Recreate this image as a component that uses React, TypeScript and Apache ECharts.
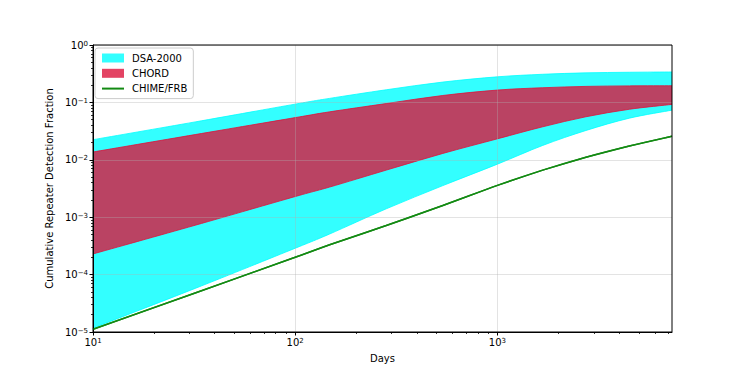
import React, { useEffect, useRef } from "react";
import * as echarts from "echarts";

// Days (x) at which values were read
const DAYS = [10, 32, 100, 148, 282, 537, 1000, 1675, 2740, 4490, 7300];
// DSA-2000 band
const DSA_UPPER = [0.0224, 0.0457, 0.0933, 0.1175, 0.166, 0.226, 0.279, 0.309, 0.327, 0.335, 0.339];
const DSA_LOWER = [1.17e-5, 5.75e-5, 2.88e-4, 5.1e-4, 1.4e-3, 3.55e-3, 8.4e-3, 0.0178, 0.0324, 0.0531, 0.0733];
// CHORD band
const CHORD_UPPER = [0.01368, 0.0275, 0.0543, 0.0685, 0.0955, 0.132, 0.164, 0.18, 0.19, 0.194, 0.195];
const CHORD_LOWER = [2.29e-4, 7.24e-4, 2.29e-3, 3.35e-3, 6.61e-3, 0.0129, 0.0232, 0.0376, 0.0562, 0.0759, 0.0923];
// CHIME/FRB line
const CHIME = [1.12e-5, 4.79e-5, 2.0e-4, 3.31e-4, 7.16e-4, 1.6e-3, 3.59e-3, 6.61e-3, 0.01109, 0.01738, 0.0257];

const X_MAJOR = [10, 100, 1000];
const X_MINOR = [20, 30, 40, 50, 60, 70, 80, 90, 200, 300, 400, 500, 600, 700, 800, 900, 2000, 3000, 4000, 5000, 6000, 7000];
const Y_MAJOR = [1e-5, 1e-4, 1e-3, 1e-2, 1e-1, 1];
const Y_MINOR_MULT = [2, 3, 4, 5, 6, 7, 8, 9];
const Y_MINOR_EXP = [-5, -4, -3, -2, -1];

const FONT = "DejaVu Sans";

function expLabel(v: number) {
  const e = Math.round(Math.log10(v));
  const s = e < 0 ? "\u2212" + Math.abs(e) : String(e);
  return "10{sup|" + s + "}";
}

// Catmull-Rom through pixel points -> cubic bezier path commands
function smoothSegs(p: number[][], start: boolean) {
  let d = start ? `M${p[0][0]},${p[0][1]}` : `L${p[0][0]},${p[0][1]}`;
  for (let i = 0; i < p.length - 1; i++) {
    const p0 = p[Math.max(0, i - 1)];
    const p1 = p[i];
    const p2 = p[i + 1];
    const p3 = p[Math.min(p.length - 1, i + 2)];
    const c1x = p1[0] + (p2[0] - p0[0]) / 6;
    const c1y = p1[1] + (p2[1] - p0[1]) / 6;
    const c2x = p2[0] - (p3[0] - p1[0]) / 6;
    const c2y = p2[1] - (p3[1] - p1[1]) / 6;
    d += ` C${c1x},${c1y} ${c2x},${c2y} ${p2[0]},${p2[1]}`;
  }
  return d;
}

function band(upper: number[], lower: number[], fill: string) {
  return (params: any, api: any) => {
    if (params.dataIndex !== 0) return null;
    const up: number[][] = DAYS.map((d, i) => api.coord([d, upper[i]]));
    const lo: number[][] = DAYS.map((d, i) => api.coord([d, lower[i]])).reverse();
    const pathData = smoothSegs(up, true) + " " + smoothSegs(lo, false) + " Z";
    return {
      type: "path",
      shape: { pathData },
      style: { fill, stroke: fill, lineWidth: 1 },
    };
  };
}

function curve(values: number[], stroke: string) {
  return (params: any, api: any) => {
    if (params.dataIndex !== 0) return null;
    const pts: number[][] = DAYS.map((d, i) => api.coord([d, values[i]]));
    return {
      type: "path",
      shape: { pathData: smoothSegs(pts, true) },
      style: { fill: null, stroke, lineWidth: 1.5 },
    };
  };
}

export default function App() {
  const ref = useRef<HTMLDivElement>(null);
  useEffect(() => {
    if (!ref.current) return;
    const chart = echarts.init(ref.current, undefined, { renderer: "svg" });
    const yMinor: number[] = [];
    Y_MINOR_EXP.forEach((e) => Y_MINOR_MULT.forEach((m) => yMinor.push(m * Math.pow(10, e))));
    const labelRich = {
      sup: { fontSize: 7, fontFamily: FONT, color: "#000", verticalAlign: "top", lineHeight: 8 },
    };
    const cyan = "rgba(0,255,255,0.8)";
    const crimson = "rgba(220,20,60,0.8)";
    const green = "#138a13";
    chart.setOption({
      animation: false,
      backgroundColor: "#fff",
      textStyle: { fontFamily: FONT },
      grid: {
        left: 93, top: 45, width: 579, height: 287,
        show: true, borderColor: "#000", borderWidth: 1, backgroundColor: "transparent", z: 4,
      },
      legend: {
        orient: "vertical", left: 95, top: 48,
        padding: [5, 6, 5, 6], itemGap: 5.3,
        itemWidth: 22, itemHeight: 9,
        backgroundColor: "rgba(255,255,255,0.8)", borderColor: "#cccccc", borderWidth: 1, borderRadius: 3,
        textStyle: { fontSize: 10, fontFamily: FONT, color: "#000", padding: [0, 0, 0, 3] },
        data: [
          { name: "DSA-2000", icon: "rect" },
          { name: "CHORD", icon: "rect" },
          { name: "CHIME/FRB", itemStyle: { opacity: 0 } },
        ],
        z: 10,
      },
      xAxis: [
        {
          type: "log", logBase: 10, min: 10, max: 7300, gridIndex: 0, z: 2,
          name: "Days", nameLocation: "middle", nameGap: 21,
          nameTextStyle: { fontSize: 10, fontFamily: FONT, color: "#000" },
          axisLine: { show: true, lineStyle: { color: "#000", width: 1 } },
          axisTick: { show: true, length: 3.5, customValues: X_MAJOR, lineStyle: { color: "#000" } },
          axisLabel: {
            customValues: X_MAJOR, fontSize: 10, fontFamily: FONT, color: "#000", margin: 5,
            formatter: (v: number) => expLabel(v), rich: labelRich,
          },
          splitLine: { show: true, lineStyle: { color: "rgba(176,176,176,0.35)", width: 1 } },
        },
        {
          type: "log", logBase: 10, min: 10, max: 7300, gridIndex: 0, position: "bottom", z: 2,
          axisLine: { show: false },
          axisTick: { show: true, length: 2, customValues: X_MINOR, lineStyle: { color: "#000", width: 0.8 } },
          axisLabel: { show: false },
          splitLine: { show: false },
        },
      ],
      yAxis: [
        {
          type: "log", logBase: 10, min: 1e-5, max: 1, gridIndex: 0, z: 2,
          name: "Cumulative Repeater Detection Fraction", nameLocation: "middle", nameGap: 33,
          nameTextStyle: { fontSize: 10, fontFamily: FONT, color: "#000" },
          axisLine: { show: true, lineStyle: { color: "#000", width: 1 } },
          axisTick: { show: true, length: 3.5, customValues: Y_MAJOR, lineStyle: { color: "#000" } },
          axisLabel: {
            customValues: Y_MAJOR, fontSize: 10, fontFamily: FONT, color: "#000", margin: 5,
            formatter: (v: number) => expLabel(v), rich: labelRich,
          },
          splitLine: { show: true, lineStyle: { color: "rgba(176,176,176,0.35)", width: 1 } },
        },
        {
          type: "log", logBase: 10, min: 1e-5, max: 1, gridIndex: 0, position: "left", z: 2,
          axisLine: { show: false },
          axisTick: { show: true, length: 2, customValues: yMinor, lineStyle: { color: "#000", width: 0.8 } },
          axisLabel: { show: false },
          splitLine: { show: false },
        },
      ],
      series: [
        {
          name: "DSA-2000", type: "custom", xAxisIndex: 0, yAxisIndex: 0, z: 1,
          itemStyle: { color: cyan },
          renderItem: band(DSA_UPPER, DSA_LOWER, cyan),
          data: DAYS.map((d, i) => [d, DSA_UPPER[i]]),
          clip: true,
        },
        {
          name: "CHORD", type: "custom", xAxisIndex: 0, yAxisIndex: 0, z: 1,
          itemStyle: { color: crimson },
          renderItem: band(CHORD_UPPER, CHORD_LOWER, crimson),
          data: DAYS.map((d, i) => [d, CHORD_UPPER[i]]),
          clip: true,
        },
        {
          name: "CHIME/FRB", type: "line", xAxisIndex: 0, yAxisIndex: 0, z: 3,
          symbol: "none", showSymbol: false, smooth: false,
          lineStyle: { color: green, width: 1.5 },
          itemStyle: { color: green },
          data: DAYS.map((d, i) => [d, CHIME[i]]),
        },
        {
          name: "CHIME/FRB curve", type: "custom", xAxisIndex: 0, yAxisIndex: 0, z: 3,
          itemStyle: { color: green },
          renderItem: curve(CHIME, green),
          data: DAYS.map((d, i) => [d, CHIME[i]]),
          clip: true,
        },
      ],
    });
    return () => chart.dispose();
  }, []);
  return <div ref={ref} style={{ width: 747, height: 374, marginLeft: -8, marginTop: -8 }} />;
}
